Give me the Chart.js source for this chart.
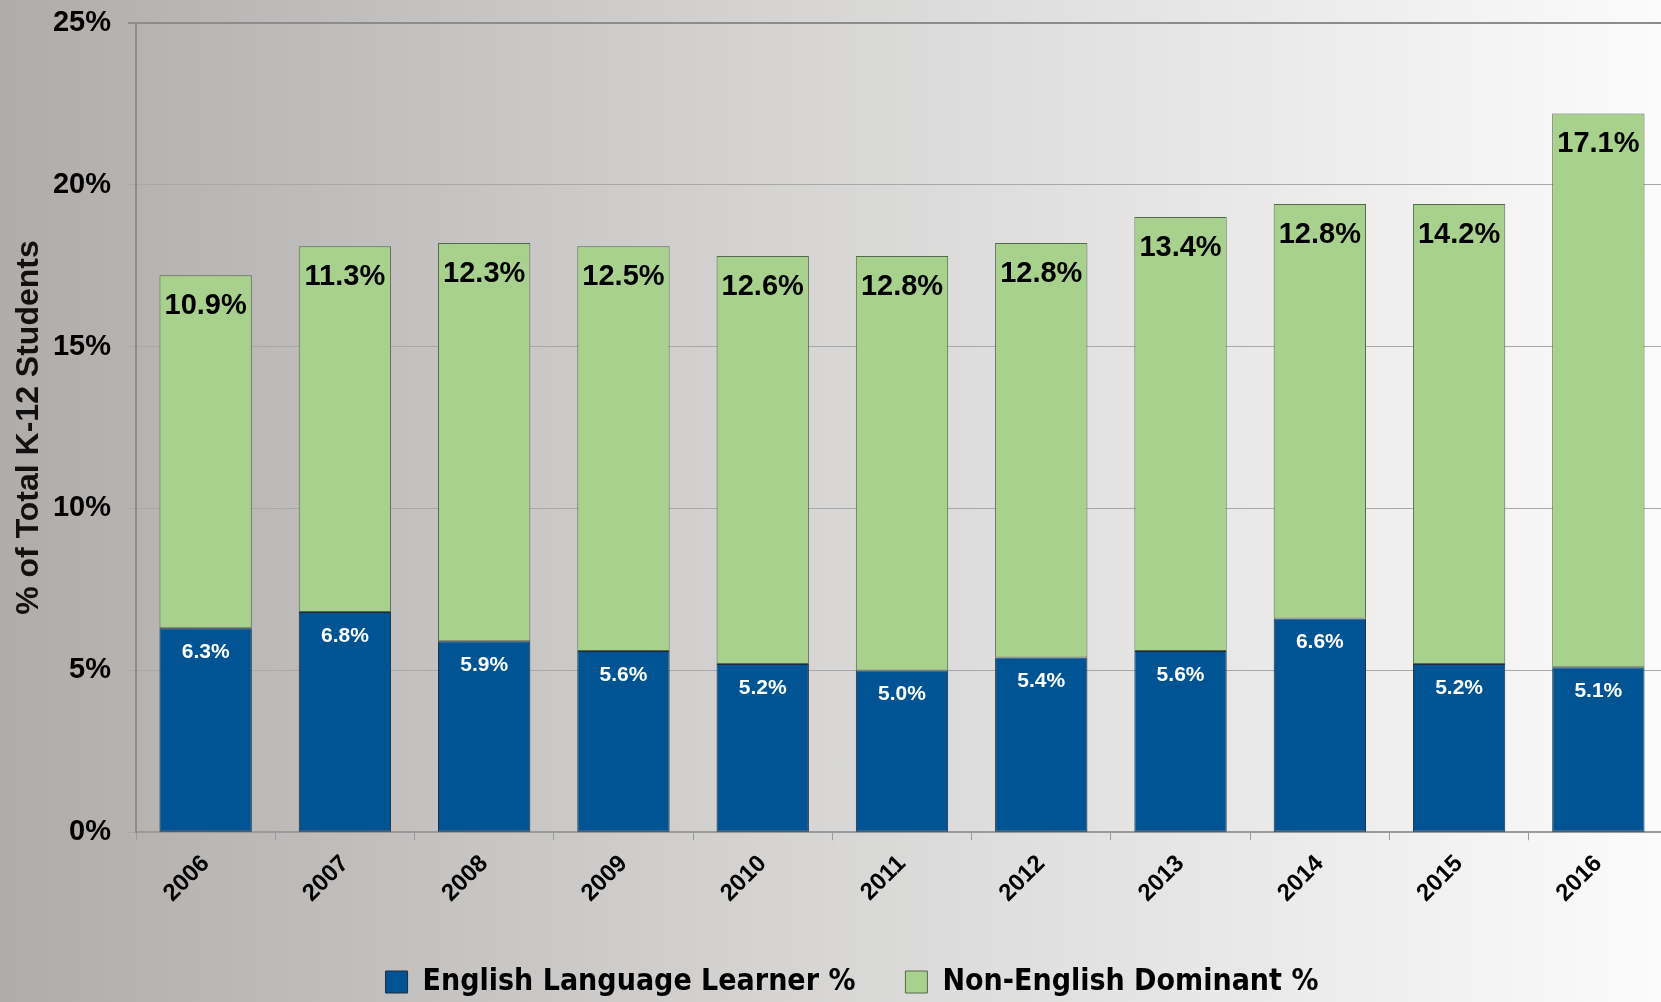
<!DOCTYPE html>
<html>
<head>
<meta charset="utf-8">
<script src="https://cdn.jsdelivr.net/npm/chart.js@4.4.1/dist/chart.umd.min.js"></script>
<style>
  html, body { margin: 0; padding: 0; overflow: hidden; }
  body {
    width: 1661px; height: 1002px;
    background: linear-gradient(to right, #afacaa 0%, #d4d3d2 45%, #fbfbfb 100%);
  }
  canvas { display: block; }
</style>
</head>
<body>
<canvas id="chart" width="1668" height="1002"></canvas>
<script>
const years = ['2006', '2007', '2008', '2009', '2010', '2011', '2012', '2013', '2014', '2015', '2016'];
const ellValues = [6.3, 6.8, 5.9, 5.6, 5.2, 5.0, 5.4, 5.6, 6.6, 5.2, 5.1];
const nonEnglishValues = [10.9, 11.3, 12.3, 12.5, 12.6, 12.8, 12.8, 13.4, 12.8, 14.2, 17.1];
const yTicks = [0, 5, 10, 15, 20, 25];

const FONT = '"Liberation Sans", Arial, sans-serif';
const LEGEND_FONT = '"Liberation Sans Narrow", "DejaVu Sans Condensed", sans-serif';

// draws the value inside the top of each stacked segment
const barLabels = {
    id: 'barLabels',
    afterDatasetsDraw(chart) {
        const ctx = chart.ctx;
        const styles = [
            { color: '#ffffff', size: 21, offset: 24 },
            { color: '#000000', size: 29, offset: 31 }
        ];
        chart.data.datasets.forEach((ds, i) => {
            const meta = chart.getDatasetMeta(i);
            const s = styles[i];
            ctx.save();
            ctx.font = 'bold ' + s.size + 'px ' + FONT;
            ctx.fillStyle = s.color;
            ctx.textAlign = 'center';
            ctx.textBaseline = 'middle';
            meta.data.forEach((bar, j) => {
                ctx.fillText(ds.data[j].toFixed(1) + '%', bar.x, bar.y + s.offset);
            });
            ctx.restore();
        });
    }
};

new Chart(document.getElementById('chart').getContext('2d'), {
    type: 'bar',
    data: {
        labels: years,
        datasets: [{
            label: 'English Language Learner %',
            data: ellValues,
            backgroundColor: '#005493',
            borderColor: '#1c2b3a',
            borderWidth: 1,
            borderSkipped: false
        }, {
            label: 'Non-English Dominant %',
            data: nonEnglishValues,
            backgroundColor: '#a9d18e',
            borderColor: '#55684a',
            borderWidth: 1,
            borderSkipped: false
        }]
    },
    options: {
        responsive: false,
        animation: false,
        datasets: {
            bar: { categoryPercentage: 1.0, barPercentage: 0.663 }
        },
        layout: { padding: { top: 0, left: 36, right: 0, bottom: -5 } },
        plugins: {
            tooltip: { enabled: false },
            legend: {
                position: 'bottom',
                labels: {
                    color: '#000',
                    font: { family: LEGEND_FONT, size: 30, weight: 'bold' },
                    boxWidth: 22,
                    boxHeight: 22,
                    padding: 50
                }
            }
        },
        scales: {
            x: {
                stacked: true,
                grid: {
                    drawOnChartArea: false,
                    color: '#9a9a9a',
                    tickLength: 8
                },
                border: { color: '#9a9a9a', width: 2 },
                ticks: {
                    color: '#000',
                    font: { family: FONT, size: 24, weight: 'bold', lineHeight: 1.0 },
                    minRotation: 45,
                    maxRotation: 45,
                    padding: 11
                }
            },
            y: {
                stacked: true,
                min: 0,
                max: 25,
                afterFit: (scale) => { scale.width = 100; },
                afterBuildTicks: (scale) => { scale.ticks = yTicks.map(v => ({ value: v })); },
                grid: {
                    color: (c) => c.tick && c.tick.value === 25 ? '#8c8c8c' : '#a8a8a8',
                    lineWidth: (c) => c.tick && c.tick.value === 25 ? 2 : 1,
                    tickLength: 8
                },
                border: { color: '#8c8c8c', width: 2 },
                ticks: {
                    color: '#000',
                    font: { family: FONT, size: 29, weight: 'bold', lineHeight: 0.4 },
                    padding: 17,
                    callback: (v) => v + '%'
                },
                title: {
                    display: true,
                    text: '% of Total K-12 Students',
                    color: '#111',
                    font: { family: FONT, size: 32, weight: 'bold' },
                    padding: { top: -26, bottom: 0 }
                }
            }
        }
    },
    plugins: [barLabels]
});
</script>
</body>
</html>
